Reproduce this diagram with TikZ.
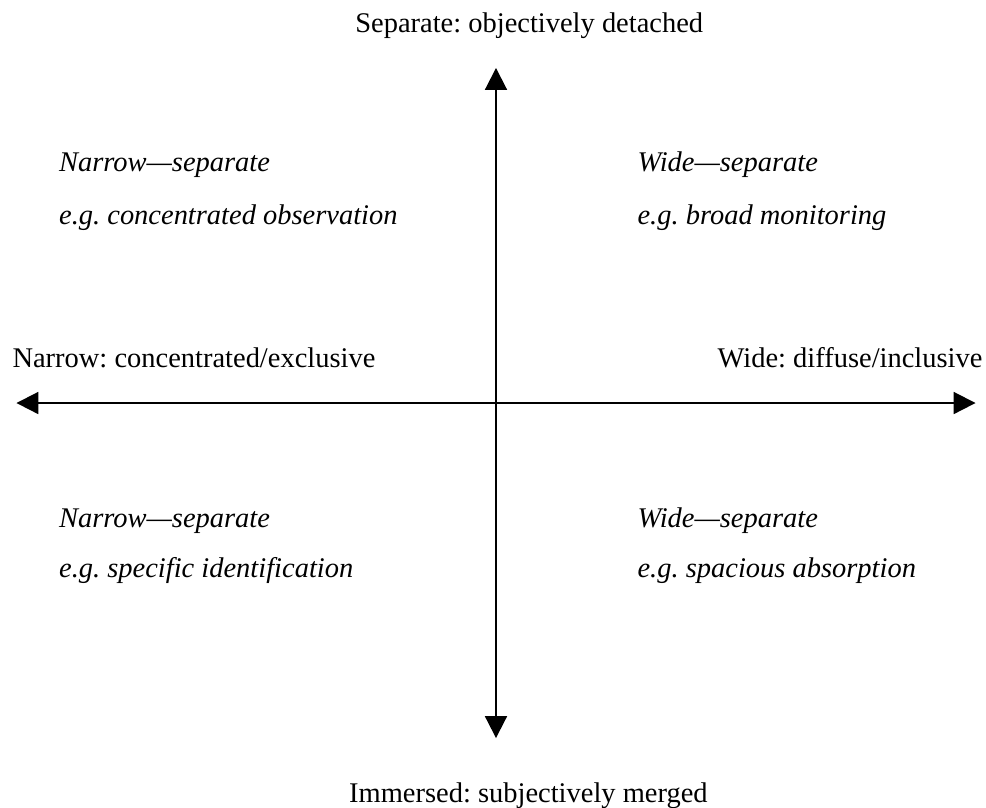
\documentclass[tikz,border=0pt]{standalone}
\usepackage{fontspec}
\setmainfont{Liberation Serif}
\usetikzlibrary{arrows.meta}
\frenchspacing

\tikzset{
  axis/.style={line width=0.7pt,{Triangle[length=2.7mm,width=2.7mm]}-{Triangle[length=2.7mm,width=2.7mm]}},
  pole/.style={inner sep=0pt,anchor=base},
  quad/.style={inner sep=0pt,anchor=base west,font=\itshape}
}

\begin{document}
\begin{tikzpicture}
  \useasboundingbox (-6.123,-4.988) rectangle (6.049,4.975);
  % axis ends
  \coordinate (N) at (0,4.136);
  \coordinate (S) at (0,-4.136);
  \coordinate (W) at (-5.92,0);
  \coordinate (E) at (5.92,0);
  \draw[axis] (S) -- (N);
  \draw[axis] (W) -- (E);
  % poles
  \node[pole] (sep) at (0.41,4.568) {Separate: objectively detached};
  \node[pole] (imm) at (0.40,-4.926) {Immersed: subjectively merged};
  \node[pole,anchor=base west] (nar) at (-5.975,0.444) {Narrow: concentrated/exclusive};
  \node[pole,anchor=base east] (wid) at (6.012,0.444) {Wide: diffuse/inclusive};
  % quadrants
  \node[quad] (NWa) at (-5.40,2.852) {Narrow---separate};
  \node[quad] (NWb) at (-5.40,2.198) {e.g. concentrated observation};
  \node[quad] (NEa) at (1.741,2.852) {Wide---separate};
  \node[quad] (NEb) at (1.741,2.198) {e.g. broad monitoring};
  \node[quad] (SWa) at (-5.40,-1.531) {Narrow---separate};
  \node[quad] (SWb) at (-5.40,-2.148) {e.g. specific identification};
  \node[quad] (SEa) at (1.741,-1.531) {Wide---separate};
  \node[quad] (SEb) at (1.741,-2.148) {e.g. spacious absorption};
\end{tikzpicture}
\end{document}
